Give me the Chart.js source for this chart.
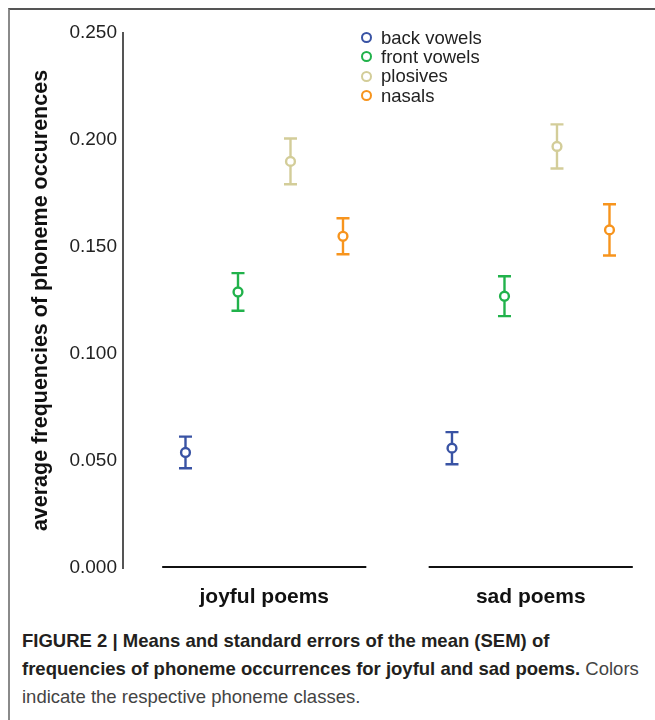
<!DOCTYPE html>
<html>
<head>
<meta charset="utf-8">
<script src="https://cdn.jsdelivr.net/npm/chart.js@4/dist/chart.umd.min.js"></script>
<style>
  body { margin:0; width:655px; height:720px; overflow:hidden; background:#fff; position:relative;
         font-family:'Liberation Sans', Arial, sans-serif; }
  #frame { position:absolute; left:8px; top:8px; right:0; bottom:0;
           border-top:2px solid #555; border-left:2px solid #8a8a8a; }
  #wrap { position:absolute; left:10px; top:10px; width:645px; height:610px; }
  #legend { position:absolute; left:361px; top:28px; font-size:18.5px; color:#222; }
  #legend .row { display:flex; align-items:center; height:19.3px; }
  #legend .dot { width:11px; height:11px; box-sizing:border-box; border-radius:50%;
                 border:2.4px solid; margin-right:9px; background:#fff; }
  #caption { position:absolute; left:22px; top:627px; font-size:18.5px; line-height:28px;
             color:#444; white-space:nowrap; }
  #caption b { color:#231f20; }
</style>
</head>
<body>
<div id="frame"></div>
<div id="wrap"><canvas id="c"></canvas></div>
<div id="legend"></div>
<div id="caption">
  <b>FIGURE 2 | Means and standard errors of the mean (SEM) of</b><br>
  <b>frequencies of phoneme occurrences for joyful and sad poems.</b> Colors<br>
  indicate the respective phoneme classes.
</div>
<script>
// ── DATA ─────────────────────────────
const groups  = ['joyful poems', 'sad poems'];
const classes = ['back vowels', 'front vowels', 'plosives', 'nasals'];
const colors  = ['#3953a4', '#21b24b', '#d3cd99', '#f7941d'];

// means per class, [joyful, sad]
const backMean    = [0.054, 0.056];
const frontMean   = [0.129, 0.127];
const plosiveMean = [0.190, 0.197];
const nasalMean   = [0.155, 0.158];

// SEM per class, [joyful, sad]
const backSem    = [0.0074, 0.0075];
const frontSem   = [0.0088, 0.0093];
const plosiveSem = [0.0107, 0.0103];
const nasalSem   = [0.0084, 0.0120];

const yTicks = [0, 0.05, 0.10, 0.15, 0.20, 0.25];

const means = [backMean, frontMean, plosiveMean, nasalMean];
const sems  = [backSem, frontSem, plosiveSem, nasalSem];

// legend (html)
const legendEl = document.getElementById('legend');
classes.forEach((name, j) => {
  const row = document.createElement('div');
  row.className = 'row';
  row.innerHTML = `<span class="dot" style="border-color:${colors[j]}"></span><span>${name}</span>`;
  legendEl.appendChild(row);
});

// whisker bars come from floating bars; caps + hollow circles drawn here
const errorMarks = {
  id: 'errorMarks',
  afterDatasetsDraw(chart) {
    const ctx = chart.ctx;
    const y = chart.scales.y;
    chart.data.datasets.forEach((ds, j) => {
      chart.getDatasetMeta(j).data.forEach((bar, i) => {
        const m = means[j][i], s = sems[j][i];
        const yHi = y.getPixelForValue(m + s);
        const yLo = y.getPixelForValue(m - s);
        const yM  = y.getPixelForValue(m);
        ctx.save();
        ctx.strokeStyle = colors[j];
        ctx.lineWidth = 2.4;
        ctx.beginPath();
        ctx.moveTo(bar.x - 6.5, yHi); ctx.lineTo(bar.x + 6.5, yHi);
        ctx.moveTo(bar.x - 6.5, yLo); ctx.lineTo(bar.x + 6.5, yLo);
        ctx.stroke();
        ctx.beginPath();
        ctx.arc(bar.x, yM, 4.4, 0, Math.PI * 2);
        ctx.fillStyle = '#fff';
        ctx.fill();
        ctx.stroke();
        ctx.restore();
      });
    });
  }
};

// separate baseline segment under each group
const groupLines = {
  id: 'groupLines',
  afterDraw(chart) {
    const ctx = chart.ctx;
    const x = chart.scales.x, y = chart.scales.y;
    const yy = y.getPixelForValue(0) - 1;
    ctx.save();
    ctx.strokeStyle = '#111';
    ctx.lineWidth = 1.8;
    groups.forEach((g, i) => {
      ctx.beginPath();
      ctx.moveTo(x.getPixelForValue(i - 0.383), yy);
      ctx.lineTo(x.getPixelForValue(i + 0.383), yy);
      ctx.stroke();
    });
    ctx.restore();
  }
};

new Chart(document.getElementById('c'), {
  type: 'bar',
  data: {
    datasets: classes.map((name, j) => ({
      label: name,
      data: groups.map((g, i) => ({ x: i, y: [means[j][i] - sems[j][i], means[j][i] + sems[j][i]] })),
      backgroundColor: colors[j],
      borderWidth: 0,
      maxBarThickness: 2.4,
      categoryPercentage: 0.788,
      barPercentage: 1
    }))
  },
  options: {
    responsive: true, maintainAspectRatio: false, animation: false,
    layout: { padding: { top: 23, right: 15, bottom: 0, left: 0 } },
    plugins: { legend: { display: false }, tooltip: { enabled: false } },
    scales: {
      x: {
        type: 'linear', min: -0.53, max: 1.41, offset: false,
        afterFit: s => { s.height = 52; },
        grid: { display: false, drawTicks: false },
        border: { display: false },
        afterBuildTicks: s => { s.ticks = groups.map((g, i) => ({ value: i })); },
        ticks: {
          padding: 17, color: '#111', maxRotation: 0, autoSkip: false,
          font: { family: 'Liberation Sans', size: 21, weight: 'bold' },
          callback: v => groups[v]
        }
      },
      y: {
        min: 0, max: 0.25,
        afterFit: s => { s.width = 113; },
        afterBuildTicks: s => { s.ticks = yTicks.map(v => ({ value: v })); },
        grid: { display: false, drawTicks: false },
        border: { display: true, color: '#555', width: 2 },
        ticks: {
          padding: 6, color: '#222',
          font: { family: 'Liberation Sans', size: 19 },
          callback: v => v.toFixed(3)
        },
        title: {
          display: true, text: 'average frequencies of phoneme occurences',
          color: '#111', padding: { top: 18, bottom: 0 },
          font: { family: 'Liberation Sans', size: 21.5, weight: 'bold' }
        }
      }
    }
  },
  plugins: [errorMarks, groupLines]
});
</script>
</body>
</html>
